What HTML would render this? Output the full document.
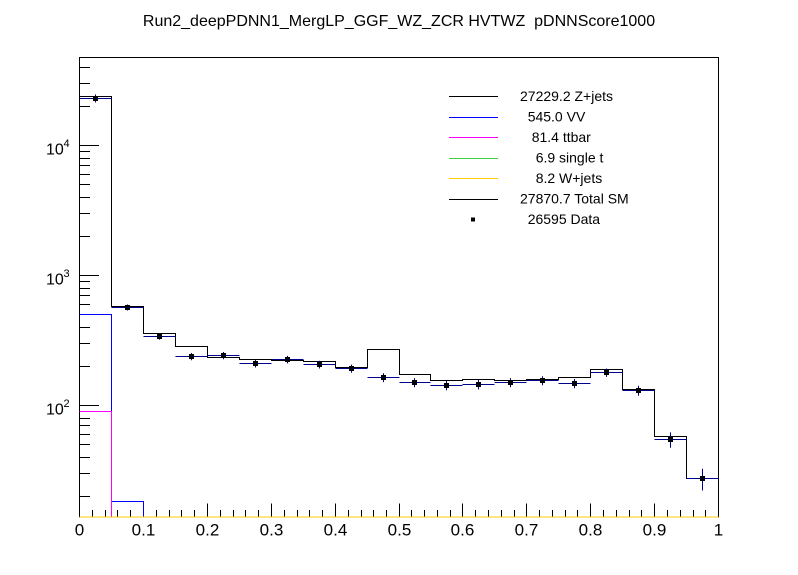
<!DOCTYPE html>
<html>
<head>
<meta charset="utf-8">
<style>
html,body{margin:0;padding:0;background:#fff;}
svg{display:block;}
text{font-family:"Liberation Sans",Arial,sans-serif;fill:#000;}
</style>
</head>
<body>
<svg width="798" height="575" viewBox="0 0 798 575" xmlns="http://www.w3.org/2000/svg">
<rect x="0" y="0" width="798" height="575" fill="#fff"/>

<!-- Title -->
<text x="399" y="26" font-size="16" text-anchor="middle" xml:space="preserve">Run2_deepPDNN1_MergLP_GGF_WZ_ZCR HVTWZ&#160; pDNNScore1000</text>

<!-- Frame -->
<rect x="79.5" y="57.5" width="639" height="459.5" fill="none" stroke="#000" stroke-width="1"/>

<!-- Y axis ticks -->
<g stroke="#000" stroke-width="1" fill="none">
  <path d="M79.5,405.5 H99 M79.5,275.5 H99 M79.5,145.5 H99"/>
  <path d="M79.5,496.5 H90 M79.5,473.5 H90 M79.5,457.5 H90 M79.5,444.5 H90 M79.5,434.5 H90 M79.5,425.5 H90 M79.5,418.5 H90 M79.5,411.5 H90
           M79.5,366.5 H90 M79.5,343.5 H90 M79.5,327.5 H90 M79.5,314.5 H90 M79.5,304.5 H90 M79.5,295.5 H90 M79.5,288.5 H90 M79.5,281.5 H90
           M79.5,236.5 H90 M79.5,213.5 H90 M79.5,197.5 H90 M79.5,184.5 H90 M79.5,174.5 H90 M79.5,165.5 H90 M79.5,158.5 H90 M79.5,151.5 H90
           M79.5,106.5 H90 M79.5,83.5 H90 M79.5,67.5 H90"/>
</g>

<!-- X axis ticks -->
<g stroke="#000" stroke-width="1" fill="none">
  <path d="M143.5,517 V503.5 M207.5,517 V503.5 M271.5,517 V503.5 M335.5,517 V503.5 M399.5,517 V503.5 M462.5,517 V503.5 M526.5,517 V503.5 M590.5,517 V503.5 M654.5,517 V503.5"/>
  <path d="M92.5,517 V510 M105.5,517 V510 M117.5,517 V510 M130.5,517 V510
           M156.5,517 V510 M169.5,517 V510 M181.5,517 V510 M194.5,517 V510
           M220.5,517 V510 M233.5,517 V510 M245.5,517 V510 M258.5,517 V510
           M284.5,517 V510 M297.5,517 V510 M309.5,517 V510 M322.5,517 V510
           M348.5,517 V510 M361.5,517 V510 M373.5,517 V510 M386.5,517 V510
           M411.5,517 V510 M424.5,517 V510 M437.5,517 V510 M450.5,517 V510
           M475.5,517 V510 M488.5,517 V510 M501.5,517 V510 M514.5,517 V510
           M539.5,517 V510 M552.5,517 V510 M565.5,517 V510 M577.5,517 V510
           M603.5,517 V510 M616.5,517 V510 M629.5,517 V510 M641.5,517 V510
           M667.5,517 V510 M680.5,517 V510 M693.5,517 V510 M705.5,517 V510"/>
</g>

<!-- X labels -->
<g font-size="17" text-anchor="middle">
  <text x="79.5" y="535.5">0</text>
  <text x="143.5" y="535.5">0.1</text>
  <text x="207.5" y="535.5">0.2</text>
  <text x="271.5" y="535.5">0.3</text>
  <text x="335.5" y="535.5">0.4</text>
  <text x="399.5" y="535.5">0.5</text>
  <text x="462.5" y="535.5">0.6</text>
  <text x="526.5" y="535.5">0.7</text>
  <text x="590.5" y="535.5">0.8</text>
  <text x="654.5" y="535.5">0.9</text>
  <text x="718.5" y="535.5">1</text>
</g>

<!-- Y labels -->
<g font-size="16">
  <text x="46" y="154.3">10</text><text x="63.5" y="147" font-size="11">4</text>
  <text x="46" y="284.3">10</text><text x="63.5" y="277" font-size="11">3</text>
  <text x="46" y="414.3">10</text><text x="63.5" y="407" font-size="11">2</text>
</g>

<!-- VV (blue) -->
<path d="M79.5,314.5 H111.5 V501.5 H143.5 V517" fill="none" stroke="#0000ff" stroke-width="1"/>
<!-- ttbar (magenta) -->
<path d="M79.5,411.5 H111.5 V517" fill="none" stroke="#ff00ff" stroke-width="1"/>
<!-- single t (green) + W+jets (yellow) along bottom -->
<path d="M79.5,517 H718.5" fill="none" stroke="#40d040" stroke-width="1"/>
<path d="M79.5,517 H718.5" fill="none" stroke="#ffcc00" stroke-width="1"/>

<!-- Z+jets (black) -->
<path d="M79.5,98.5 H111.5 V306.5 H143.5 V333.5 H175.5 V346.5 H207.5 V357.5 H239.5 V359.5 H271.5 V360.5 H303.5 V361.5 H335.5 V367.5 H367.5 V349.5 H399.5 V374.5 H430.5 V380.5 H462.5 V379.5 H494.5 V380.5 H526.5 V379.5 H558.5 V377.5 H590.5 V369.5 H622.5 V389.5 H654.5 V436.5 H686.5 V478.5 H718.5" fill="none" stroke="#000" stroke-width="1"/>
<!-- Total SM (black) -->
<path d="M79.5,96.5 H111.5 V306.5 H143.5 V333.5 H175.5 V346.5 H207.5 V357.5 H239.5 V359.5 H271.5 V360.5 H303.5 V361.5 H335.5 V367.5 H367.5 V349.5 H399.5 V374.5 H430.5 V380.5 H462.5 V379.5 H494.5 V380.5 H526.5 V379.5 H558.5 V377.5 H590.5 V369.5 H622.5 V389.5 H654.5 V436.5 H686.5 V478.5 H718.5" fill="none" stroke="#000" stroke-width="1"/>

<!-- Data error bars (navy) -->
<g stroke="#000090" stroke-width="1" fill="none">
  <path d="M79.5,98.5 H111.5 M95.5,94.5 V102.5"/>
  <path d="M111.5,307.5 H143.5 M127.5,304.5 V310.5"/>
  <path d="M143.5,336.5 H175.5 M159.5,333.5 V339.6"/>
  <path d="M175.5,356.5 H207.5 M191.5,353 V360.3"/>
  <path d="M207.5,355.5 H239.5 M223.5,352 V359.2"/>
  <path d="M239.5,363.5 H271.5 M255.5,359.7 V367.5"/>
  <path d="M271.5,359.5 H303.5 M287.5,355.9 V363.4"/>
  <path d="M303.5,364.5 H335.5 M319.5,360.7 V368.5"/>
  <path d="M335.5,368.5 H367.5 M351.5,364.6 V372.7"/>
  <path d="M367.5,377.5 H399.5 M383.5,373.2 V382.1"/>
  <path d="M399.5,382.5 H430.5 M414.5,378.1 V387.3"/>
  <path d="M430.5,385.5 H462.5 M446.5,381 V390.4"/>
  <path d="M462.5,384.5 H494.5 M478.5,380 V389.4"/>
  <path d="M494.5,382.5 H526.5 M510.5,378.1 V387.3"/>
  <path d="M526.5,380.5 H558.5 M542.5,376.2 V385.2"/>
  <path d="M558.5,383.5 H590.5 M574.5,379 V388.3"/>
  <path d="M590.5,372.5 H622.5 M606.5,368.5 V376.9"/>
  <path d="M622.5,390.5 H654.5 M638.5,385.8 V395.7"/>
  <path d="M654.5,439.5 H686.5 M670.5,432.4 V447.7"/>
  <path d="M686.5,478.5 H718.5 M702.5,468.7 V490.5"/>
</g>
<!-- Data markers -->
<g fill="#000">
  <rect x="93" y="96" width="5" height="5"/>
  <rect x="125" y="305" width="5" height="5"/>
  <rect x="157" y="334" width="5" height="5"/>
  <rect x="189" y="354" width="5" height="5"/>
  <rect x="221" y="353" width="5" height="5"/>
  <rect x="253" y="361" width="5" height="5"/>
  <rect x="285" y="357" width="5" height="5"/>
  <rect x="317" y="362" width="5" height="5"/>
  <rect x="349" y="366" width="5" height="5"/>
  <rect x="381" y="375" width="5" height="5"/>
  <rect x="412" y="380" width="5" height="5"/>
  <rect x="444" y="383" width="5" height="5"/>
  <rect x="476" y="382" width="5" height="5"/>
  <rect x="508" y="380" width="5" height="5"/>
  <rect x="540" y="378" width="5" height="5"/>
  <rect x="572" y="381" width="5" height="5"/>
  <rect x="604" y="370" width="5" height="5"/>
  <rect x="636" y="388" width="5" height="5"/>
  <rect x="668" y="437" width="5" height="5"/>
  <rect x="700" y="476" width="5" height="5"/>
</g>

<!-- Legend -->
<g stroke-width="1" fill="none">
  <path d="M449,96.5 H498" stroke="#000"/>
  <path d="M449,117.5 H498" stroke="#0000ff"/>
  <path d="M449,137.5 H498" stroke="#ff00ff"/>
  <path d="M449,158.5 H498" stroke="#40d040"/>
  <path d="M449,178.5 H498" stroke="#ffcc00"/>
  <path d="M449,199.5 H498" stroke="#000"/>
</g>
<rect x="471" y="217.5" width="4" height="4" fill="#000"/>
<g font-size="14">
  <text x="520" y="101">27229.2 Z+jets</text>
  <text x="527.7" y="121.5">545.0 VV</text>
  <text x="531.7" y="142">81.4 ttbar</text>
  <text x="535.7" y="162.5">6.9 single t</text>
  <text x="535.7" y="183">8.2 W+jets</text>
  <text x="520" y="203.5">27870.7 Total SM</text>
  <text x="527.7" y="224">26595 Data</text>
</g>
</svg>
</body>
</html>
